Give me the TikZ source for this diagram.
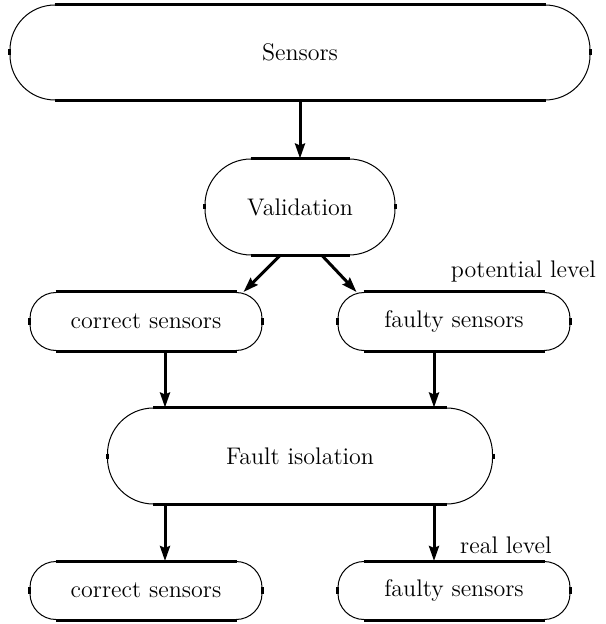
\documentclass[tikz,border=0pt]{standalone}
\usepackage{tikz}
\usetikzlibrary{arrows.meta}

\begin{document}
\begin{tikzpicture}[x=0.5pt, y=-0.5pt, ->, >={Stealth[length=7.5pt,width=5pt,inset=1pt]}, line width=1.5pt,
    font=\fontsize{12}{14}\selectfont,
    pill/.style={draw, line width=0.5pt, inner sep=0pt, minimum width=#1},
    big/.style={pill=#1, minimum height=48pt, rounded corners=23pt},
    small/.style={pill=116pt, minimum height=29pt, rounded corners=13pt}]
    \useasboundingbox (0,0) rectangle (605,624);

    \node[pill=290pt, minimum height=47.5pt, rounded corners=22.5pt] (sens) at (300,52.5) {Sensors};
    \node[big=95pt] (valid) at (300,207) {Validation};
    \node[small] (corr1) at (146,321.5) {correct sensors};
    \node[small] (fault1) at (454,321.5) {faulty sensors};
    \node[big=192.5pt] (iso) at (300,456) {Fault isolation};
    \node[small] (corr2) at (146,590.5) {correct sensors};
    \node[small] (fault2) at (454,590.5) {faulty sensors};

    \node[anchor=east] (potlbl) at (604,272) {potential level};
    \node[anchor=west] (reallbl) at (452,545) {real level};

    % thick straight parts of the boxes
    \foreach \n/\r in {sens/22.5pt, valid/23pt, corr1/13pt, fault1/13pt, iso/23pt, corr2/13pt, fault2/13pt} {
        \draw[-] ([xshift=\r]\n.north west) -- ([xshift=-\r]\n.north east);
        \draw[-] ([xshift=\r]\n.south west) -- ([xshift=-\r]\n.south east);
        \draw[-] ([yshift=-\r]\n.north west) -- ([yshift=\r]\n.south west);
        \draw[-] ([yshift=-\r]\n.north east) -- ([yshift=\r]\n.south east);
    }

    \draw (sens) -- (valid);
    \draw ([xshift=-10pt]valid.south) -- ([xshift=-9.5pt]corr1.north east);
    \draw ([xshift=11pt]valid.south) -- ([xshift=9.5pt]fault1.north west);
    \draw ([xshift=9.5pt]corr1.south) -- ([xshift=9.5pt]corr1.south |- iso.north);
    \draw ([xshift=-10pt]fault1.south) -- ([xshift=-10pt]fault1.south |- iso.north);
    \draw ([xshift=9.5pt]corr2.north |- iso.south) -- ([xshift=9.5pt]corr2.north);
    \draw ([xshift=-10pt]fault2.north |- iso.south) -- ([xshift=-10pt]fault2.north);
\end{tikzpicture}
\end{document}
